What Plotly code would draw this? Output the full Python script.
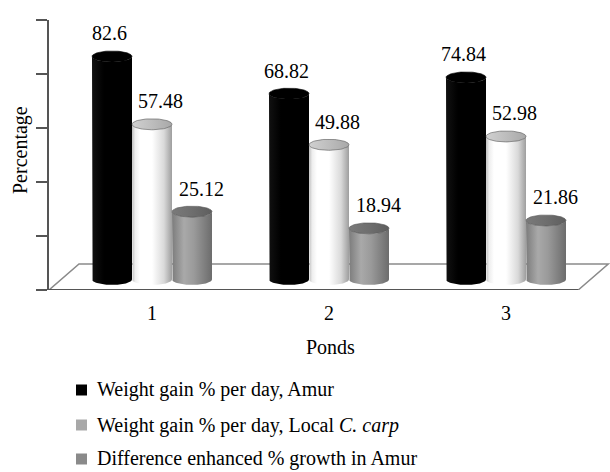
import numpy as np
import plotly.graph_objects as go

# ---- data ----
ponds = ["1", "2", "3"]
amur = [82.6, 68.82, 74.84]
local_carp = [57.48, 49.88, 52.98]
difference = [25.12, 18.94, 21.86]
series_names = [
    "Weight gain % per day, Amur",
    "Weight gain % per day, Local <i>C. carp</i>",
    "Difference enhanced % growth in Amur",
]
y_ticks = [0, 20, 40, 60, 80, 100]

# ---- geometry / styling ----
W, H = 610, 472
ML, MR, MT, MB = 49, 0, 20, 182
PLOT_W, PLOT_H = W - ML - MR, H - MT - MB
PX_X = 177.0                      # pixels per category unit
X0 = 1 - 103 / PX_X
X1 = X0 + PLOT_W / PX_X
Y_RANGE = [0, 100]
PX_Y = PLOT_H / (Y_RANGE[1] - Y_RANGE[0])

FONT = "Liberation Serif"
FS = 20

DEPTH_X, DEPTH_Y = 30 / PX_X, 26 / PX_Y        # floor depth
BASE = 3.9                                        # cylinders stand mid-floor
RX = 20 / PX_X                                    # cylinder radius (x units)
RY = 5.5 / PX_Y                                   # ellipse half-height (y units)
OFFSETS = [-40 / PX_X, 0.0, 40 / PX_X]

body_scales = [
    [[0, "#111111"], [0.3, "#000000"], [1, "#000000"]],
    [[0, "#bdbdbd"], [0.08, "#eeeeee"], [0.2, "#ffffff"], [0.5, "#ffffff"],
     [0.8, "#d9d9d9"], [1, "#9e9e9e"]],
    [[0, "#7c7c7c"], [0.3, "#a9a9a9"], [0.55, "#9a9a9a"], [1, "#6c6c6c"]],
]
cap_scales = [
    [[0, "#000000"], [1, "#000000"]],
    [[0, "#d0d0d0"], [0.5, "#bdbdbd"], [1, "#a8a8a8"]],
    [[0, "#7a7a7a"], [0.5, "#6e6e6e"], [1, "#5e5e5e"]],
]
legend_colors = ["#000000", "#a8a8a8", "#8a8a8a"]
legend_rows_px = [390, 425, 459]
label_dx = [-3, 8, 9]


def px_to_paper_y(py):
    return (MT + PLOT_H - py) / PLOT_H


def px_to_paper_x(px):
    return (px - ML) / PLOT_W


series = [amur, local_carp, difference]
fig = go.Figure()

t_front = np.linspace(np.pi, 2 * np.pi, 40)
t_full = np.linspace(0, 2 * np.pi, 80)

annotations = []
for s, vals in enumerate(series):
    for i, v in enumerate(vals):
        xc = (i + 1) + OFFSETS[s]
        top = v + BASE
        # cylinder body: sides + front arcs of base and top
        bx = np.concatenate([[xc - RX], xc + RX * np.cos(t_front), [xc + RX],
                             xc + RX * np.cos(t_front[::-1])])
        by = np.concatenate([[top], BASE + RY * np.sin(t_front), [top],
                             top + RY * np.sin(t_front[::-1])])
        fig.add_trace(go.Scatter(
            x=bx, y=by, mode="lines", fill="toself", name=series_names[s],
            fillgradient=dict(type="horizontal", colorscale=body_scales[s]),
            line=dict(width=0), hoverinfo="skip", showlegend=False))
        # top cap
        fig.add_trace(go.Scatter(
            x=xc + RX * np.cos(t_full), y=top + RY * np.sin(t_full),
            mode="lines", fill="toself",
            fillgradient=dict(type="horizontal", colorscale=cap_scales[s]),
            line=dict(width=0.6, color="#555555" if s else "#000000"),
            hoverinfo="skip", showlegend=False))
        annotations.append(dict(
            x=xc, y=top, xref="x", yref="y", text=f"{v:g}", showarrow=False,
            xshift=label_dx[s], yshift=23, yanchor="middle",
            font=dict(family=FONT, size=FS, color="#000000")))

# floor parallelogram
floor_path = (f"M {X0},0 L {X0 + DEPTH_X},{DEPTH_Y} L {X1 - 0.01},{DEPTH_Y} "
              f"L {X1 - 0.01 - DEPTH_X},0 Z")
shapes = [
    dict(type="path", path=floor_path, xref="x", yref="y", layer="below",
         fillcolor="#ffffff", line=dict(color="#8a8a8a", width=1.5)),
    dict(type="line", x0=X0, x1=X1 - 0.01 - DEPTH_X, y0=0, y1=0, xref="x", yref="y",
         layer="below", line=dict(color="#3a3a3a", width=1.5)),
]

# legend: square key + text per series
for s, name in enumerate(series_names):
    yc = legend_rows_px[s]
    shapes.append(dict(
        type="rect", xref="paper", yref="paper",
        x0=px_to_paper_x(76), x1=px_to_paper_x(87),
        y0=px_to_paper_y(yc + 5.5), y1=px_to_paper_y(yc - 5.5),
        fillcolor=legend_colors[s], line=dict(width=0)))
    annotations.append(dict(
        text=name, x=px_to_paper_x(95), y=px_to_paper_y(yc),
        xref="paper", yref="paper", xanchor="left", yanchor="middle",
        showarrow=False, font=dict(family=FONT, size=FS, color="#000000")))

annotations += [
    dict(text="Ponds", x=px_to_paper_x(330), y=px_to_paper_y(347),
         xref="paper", yref="paper", showarrow=False, yanchor="middle",
         font=dict(family=FONT, size=FS, color="#000000")),
    dict(text="Percentage", x=px_to_paper_x(20), y=px_to_paper_y(150),
         xref="paper", yref="paper", showarrow=False, textangle=-90,
         xanchor="center", yanchor="middle",
         font=dict(family=FONT, size=FS, color="#000000")),
]

fig.update_layout(
    width=W, height=H,
    margin=dict(l=ML, r=MR, t=MT, b=MB),
    paper_bgcolor="#ffffff", plot_bgcolor="#ffffff",
    shapes=shapes, annotations=annotations,
    showlegend=False,
    font=dict(family=FONT, size=FS, color="#000000"),
)
fig.update_xaxes(range=[X0, X1], tickvals=[1, 2, 3], ticktext=ponds,
                 showgrid=False, zeroline=False, showline=False, ticks="",
                 ticklabelstandoff=9,
                 tickfont=dict(family=FONT, size=FS, color="#000000"))
fig.update_yaxes(range=Y_RANGE, tickvals=y_ticks, showticklabels=False,
                 showgrid=False, zeroline=False, showline=True,
                 linecolor="#555555", linewidth=1.5, ticks="outside",
                 ticklen=11, tickwidth=1.5, tickcolor="#555555")

fig.write_html("out.html")
